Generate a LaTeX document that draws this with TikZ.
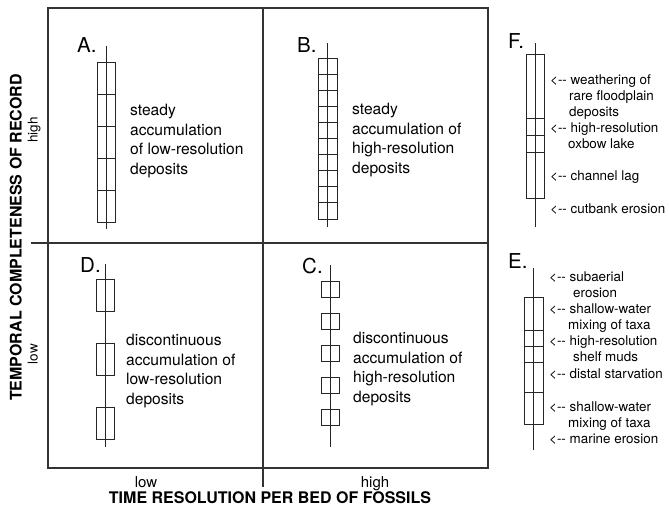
\documentclass[tikz,border=0pt]{standalone}
\usepackage{fontspec}
\setmainfont{TeX Gyre Heros}
\usetikzlibrary{positioning}
\newcommand{\lar}{<-{}-~}

\begin{document}
\begin{tikzpicture}[x=1pt, y=-1pt,
        every node/.style={inner sep=0pt, text=black},
        frame/.style={draw=black!80, line width=1.2pt},
        core/.style={draw=black!85, line width=0.9pt},
        letter/.style={anchor=base west, font=\fontsize{20.5}{24}\selectfont},
        desc/.style={anchor=west, align=left, font=\fontsize{15.6}{19.8}\selectfont},
        note/.style={anchor=base west, align=left, font=\fontsize{13.4}{16}\selectfont},
        axis/.style={font=\bfseries\fontsize{16}{19}\selectfont},
        level/.style={font=\fontsize{15}{18}\selectfont}
    ]
\useasboundingbox (0,0) rectangle (669,515);
%
    \draw[frame] (48,8) rectangle (488,468);
    \draw[frame] (263,8) -- (263,487);
    \draw[frame] (31,243) -- (488,243);
%
    \node[axis, anchor=base] (xtitle) at (270,503) {TIME RESOLUTION PER BED OF FOSSILS};
    \node[axis, rotate=90, anchor=base] (ytitle) at (21.5,237.5) {TEMPORAL COMPLETENESS OF RECORD};
    \node[level, anchor=base] (xlow) at (146,487) {low};
    \node[level, anchor=base] (xhigh) at (375,487) {high};
    \node[level, rotate=90, anchor=base, font=\fontsize{13.5}{16}\selectfont] (ylow) at (37.5,354) {low};
    \node[level, rotate=90, anchor=base, font=\fontsize{13.5}{16}\selectfont] (yhigh) at (37.5,130) {high};
%
    % A: steady, low resolution
    \draw[core] (97,62) rectangle (115,222);
    \foreach \y in {94,126,158,190} \draw[core] (97,\y) -- (115,\y);
    \draw[core] (106,46) -- (106,229);
    \node[letter] (labA) at (77,52) {A.};
    \node[desc] (txtA) at (130,141) {steady\\accumulation\\of low-resolution\\deposits};
%
    % B: steady, high resolution
    \draw[core] (318,58) rectangle (337,219);
    \foreach \i in {1,...,9} \draw[core] (318,{58+16.1*\i}) -- (337,{58+16.1*\i});
    \draw[core] (327.5,43) -- (327.5,227);
    \node[letter] (labB) at (297,52) {B.};
    \node[desc] (txtB) at (352,140) {steady\\accumulation of\\high-resolution\\deposits};
%
    % D: discontinuous, low resolution
    \foreach \y in {279,343,407} \draw[core] (96,\y) rectangle (114,{\y+32});
    \draw[core] (105,264) -- (105,447);
    \node[letter] (labD) at (80,272) {D.};
    \node[desc] (txtD) at (126,371) {discontinuous\\accumulation of\\low-resolution\\deposits};
%
    % C: discontinuous, high resolution
    \foreach \y in {281,313,...,409} \draw[core] (321,\y) rectangle (339,{\y+16});
    \draw[core] (330,265) -- (330,447);
    \node[letter] (labC) at (302,273) {C.};
    \node[desc] (txtC) at (353,369) {discontinuous\\accumulation of\\high-resolution\\deposits};
%
    % F: fluvial column (base = last line)
    \draw[core] (526,54) rectangle (544,198);
    \foreach \y in {118,135,152} \draw[core] (526,\y) -- (544,\y);
    \draw[core] (535,43) -- (535,227);
    \node[letter] (labF) at (508,48) {F.};
    \node[note] (fWeather) at (550,116) {\lar weathering of\\\hspace*{19pt}rare floodplain\\\hspace*{19pt}deposits};
    \node[note] (fOxbow) at (550,148) {\lar high-resolution\\\hspace*{18pt}oxbow lake};
    \node[note] (fLag) at (550,180) {\lar channel lag};
    \node[note] (fCut) at (550,213) {\lar cutbank erosion};
%
    % E: marine column
    \draw[core] (524,297) rectangle (543,424);
    \foreach \y in {330,346,362,392} \draw[core] (524,\y) -- (543,\y);
    \draw[core] (533.5,268) -- (533.5,450);
    \node[letter] (labE) at (508,268) {E.};
    \node[note] (eSub) at (549,297) {\lar subaerial\\\hspace*{24pt}erosion};
    \node[note] (eShallowTop) at (549,329) {\lar shallow-water\\\hspace*{19pt}mixing of taxa};
    \node[note] (eShelf) at (549,361) {\lar high-resolution\\\hspace*{24pt}shelf muds};
    \node[note] (eDistal) at (549,378) {\lar distal starvation};
    \node[note] (eShallowBot) at (549,427) {\lar shallow-water\\\hspace*{19pt}mixing of taxa};
    \node[note] (eMarine) at (549,443) {\lar marine erosion};
%
\end{tikzpicture}
\end{document}
